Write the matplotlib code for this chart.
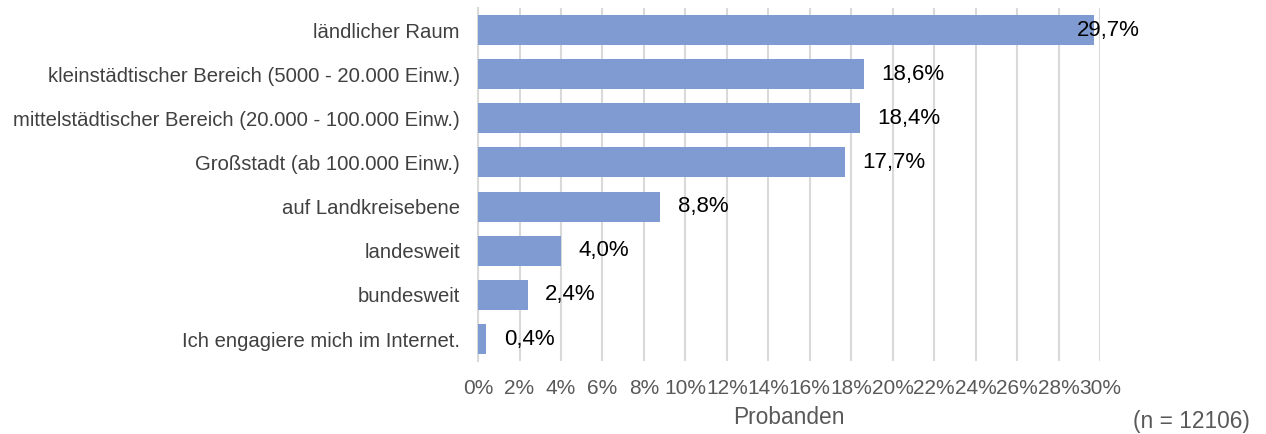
import matplotlib
matplotlib.use("Agg")
import matplotlib.pyplot as plt
from matplotlib.ticker import MultipleLocator, FuncFormatter

plt.rcParams['font.family'] = ['Liberation Sans', 'DejaVu Sans']

categories = [
    "ländlicher Raum",
    "kleinstädtischer Bereich (5000 - 20.000 Einw.)",
    "mittelstädtischer Bereich (20.000 - 100.000 Einw.)",
    "Großstadt (ab 100.000 Einw.)",
    "auf Landkreisebene",
    "landesweit",
    "bundesweit",
    "Ich engagiere mich im Internet.",
]
values = [29.7, 18.6, 18.4, 17.7, 8.8, 4.0, 2.4, 0.4]
n_total = 12106

bar_color = '#7F9BD1'
grid_color = '#D9D9D9'

fig = plt.figure(figsize=(12.66, 4.34), dpi=100)
ax = fig.add_axes([0.3776, 0.168, 0.4913, 0.8136])

ypos = list(range(len(values)))
ax.barh(ypos, values, height=0.68, color=bar_color, zorder=3)
ax.set_ylim(len(values) - 0.5, -0.5)
ax.set_xlim(0, 30)
ax.set_yticks(ypos)
ax.set_yticklabels(categories, fontsize=14.6, color='#404040')

ax.xaxis.set_major_locator(MultipleLocator(2))
ax.xaxis.set_major_formatter(FuncFormatter(lambda v, p: f"{v:.0f}%"))
ax.tick_params(axis='x', length=0, pad=13, labelsize=15, labelcolor='#595959')
ax.tick_params(axis='y', length=0, pad=13)
ax.grid(axis='x', color=grid_color, linewidth=1.5, zorder=0)
for s in ['top', 'right', 'bottom']:
    ax.spines[s].set_visible(False)
ax.spines['left'].set_color(grid_color)
ax.spines['left'].set_linewidth(1.5)

for y, v in zip(ypos, values):
    label = f"{v:.1f}%".replace('.', ',')
    if v > 29:
        # label would leave the plot area, shift it back like the original
        ax.annotate(label, (v, y), xytext=(-12.5, 0), textcoords='offset points',
                    va='center', ha='left', fontsize=16, color='black', zorder=4)
    else:
        ax.annotate(label, (v, y), xytext=(12.5, 0), textcoords='offset points',
                    va='center', ha='left', fontsize=16, color='black', zorder=4)

ax.set_xlabel("Probanden", fontsize=16.4, color='#595959', labelpad=6)
fig.text(0.941, 0.014, f"(n = {n_total})", fontsize=16.4, color='#595959', ha='center')

fig.savefig("out.png", dpi=100)
